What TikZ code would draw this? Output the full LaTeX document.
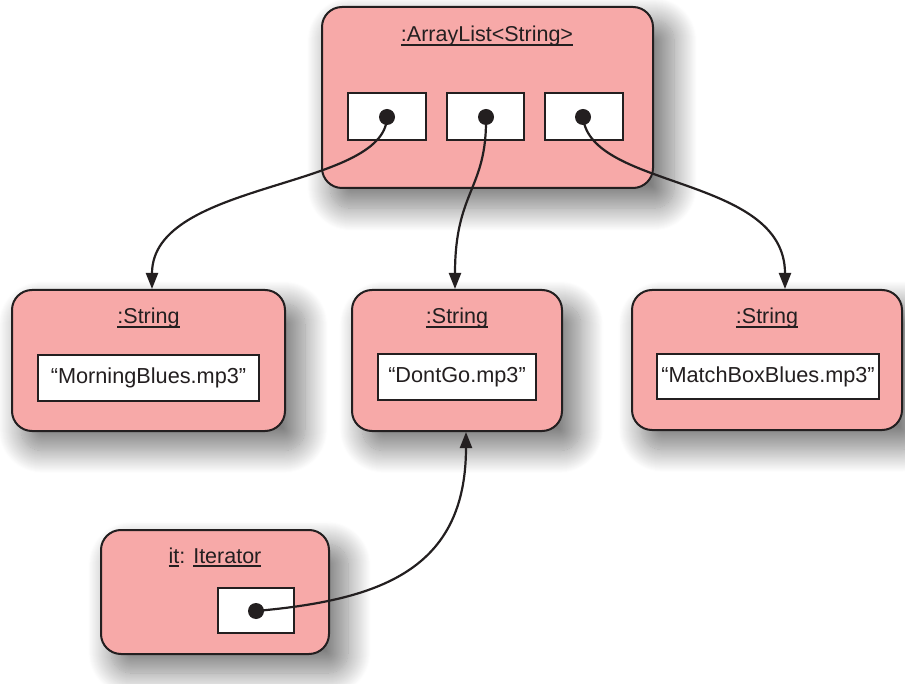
\documentclass[tikz,border=0pt]{standalone}
\usepackage{fontspec}
\setmainfont{Liberation Sans}
\usetikzlibrary{arrows.meta,shadows.blur}
\definecolor{pinkc}{RGB}{247,169,168}
\definecolor{linec}{RGB}{35,31,32}
\newcommand\ulx[1]{\setbox0=\hbox{#1}\rlap{\rule[-4pt]{\wd0}{1.7pt}}\box0}
\tikzset{
  objbox/.style={draw=linec, fill=pinkc, line width=2pt, rounded corners=20pt, inner sep=0pt,
    blur shadow={shadow xshift=14pt, shadow yshift=-16pt, shadow scale=1.04, shadow blur radius=22pt, shadow opacity=50, shadow blur steps=24}},
  slotbox/.style={draw=linec, fill=white, line width=2pt, inner sep=0pt},
  valbox/.style={draw=linec, fill=white, line width=2pt, inner sep=0pt, font=\fontsize{21.7}{24}\selectfont, text=linec},
  titletext/.style={anchor=base, inner sep=0pt, font=\fontsize{21.5}{24}\selectfont, text=linec},
  dot/.style={circle, fill=linec, minimum size=16pt, inner sep=0pt},
  conn/.style={draw=linec, line width=2.2pt, -{Triangle[length=16pt,width=12pt]}}
}
\begin{document}
\begin{tikzpicture}[x=1pt,y=-1pt]
\useasboundingbox (0,0) rectangle (905,684);
% boxes
\node[objbox, minimum width=331pt, minimum height=181pt] (al) at (487.5,97.5) {};
\node[objbox, minimum width=273pt, minimum height=141pt] (s1) at (148.5,360.5) {};
\node[objbox, minimum width=210pt, minimum height=141pt] (s2) at (457,360.5) {};
\node[objbox, minimum width=270pt, minimum height=140pt] (s3) at (767,360) {};
\node[objbox, minimum width=228pt, minimum height=124pt] (it) at (215,592) {};
% titles
\node[titletext] (alt) at (487,42) {\ulx{:ArrayList<String>}};
\node[titletext] (s1t) at (148.5,324) {\ulx{:String}};
\node[titletext] (s2t) at (457,324) {\ulx{:String}};
\node[titletext] (s3t) at (767,324) {\ulx{:String}};
\node[titletext] (itt) at (215,563) {\ulx{it}: \ulx{Iterator}};
% slots
\node[slotbox, minimum width=78pt, minimum height=47pt] (a1) at (387,116.5) {};
\node[slotbox, minimum width=77pt, minimum height=47pt] (a2) at (485.5,116.5) {};
\node[slotbox, minimum width=78pt, minimum height=47pt] (a3) at (584,116.5) {};
\node[slotbox, minimum width=76pt, minimum height=45pt] (ib) at (256,610.5) {};
% values
\node[valbox, minimum width=221pt, minimum height=46pt] (v1) at (148.5,378) {``MorningBlues.mp3''};
\node[valbox, minimum width=158pt, minimum height=46pt] (v2) at (457,377) {``DontGo.mp3''};
\node[valbox, minimum width=222pt, minimum height=45pt] (v3) at (768,376.5) {``MatchBoxBlues.mp3''};
% dots
\node[dot] (d1) at (387,117) {};
\node[dot] (d2) at (486,117) {};
\node[dot] (d3) at (583,117) {};
\node[dot] (d4) at (256,611) {};
% connectors
\draw[conn] (d1.center) .. controls (385,190) and (152,180) .. ([xshift=3.5pt]s1.north);
\draw[conn] (d2.center) .. controls (487,190) and (455,190) .. ([xshift=-2pt]s2.north);
\draw[conn] (d3.center) .. controls (590,190) and (785,175) .. ([xshift=18pt]s3.north);
\draw[conn] (d4.center) .. controls (380,600) and (466,570) .. ([xshift=9pt]s2.south);
\end{tikzpicture}
\end{document}
